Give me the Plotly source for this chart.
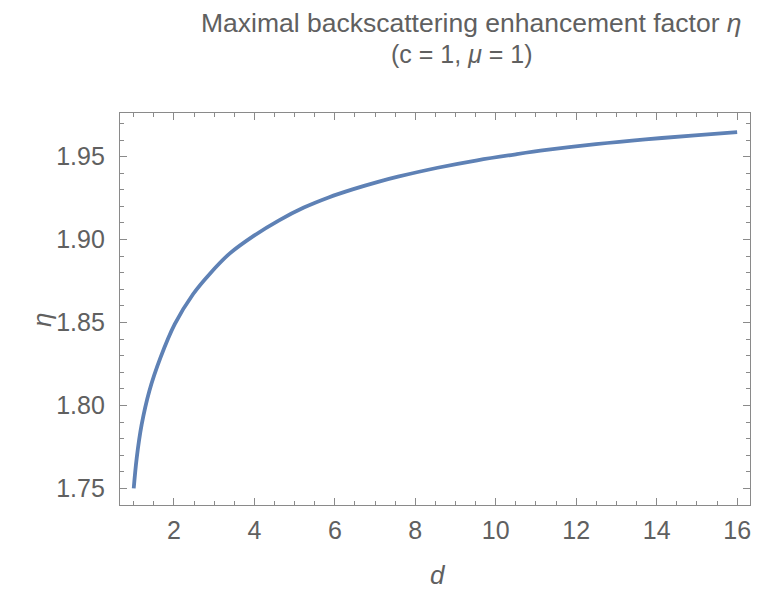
import plotly.graph_objects as go

# Values
d_values = [1.0, 1.074, 1.197, 1.387, 1.665, 2.02, 2.478, 2.889, 3.382, 4.0,
            4.613, 5.229, 5.845, 6.46, 7.076, 7.569, 8.554, 9.54, 10.525, 11.26, 12.49,
            13.72, 14.95, 16.0]
eta_values = [1.7500, 1.7682, 1.7884, 1.8086, 1.8288, 1.8490, 1.8672, 1.8793,
              1.8915, 1.9025, 1.9116, 1.9193, 1.9254, 1.9304, 1.9348, 1.9379, 1.9433,
              1.9478, 1.9515, 1.9540, 1.9575, 1.9604, 1.9628, 1.9648]
x_ticks = [2, 4, 6, 8, 10, 12, 14, 16]
y_ticks = [1.75, 1.80, 1.85, 1.90, 1.95]
y_tick_labels = ["1.75", "1.80", "1.85", "1.90", "1.95"]

FONT = "Liberation Sans, Arial, sans-serif"
GRAY = "#606060"
FRAME = "#8a8a8a"

fig = go.Figure()
fig.add_trace(go.Scatter(
    x=d_values, y=eta_values, mode="lines",
    line=dict(color="#5E81B5", width=3.8, shape="spline", smoothing=1.0),
    hoverinfo="skip", showlegend=False,
))

common = dict(
    showgrid=False, zeroline=False, showline=True, linecolor=FRAME, linewidth=1.3,
    mirror="allticks", ticks="inside", ticklen=7, tickwidth=1, tickcolor=FRAME,
    tickfont=dict(family=FONT, size=25, color=GRAY),
    ticklabeloverflow="allow",
)

fig.update_xaxes(
    range=[0.659, 16.32], tickvals=x_ticks,
    minor=dict(ticks="inside", dtick=0.5, tick0=0, ticklen=4, tickcolor=FRAME, tickwidth=1),
    ticklabelstandoff=3,
    **common,
)
fig.update_yaxes(
    range=[1.740, 1.9763], tickvals=y_ticks, ticktext=y_tick_labels,
    minor=dict(ticks="inside", dtick=0.01, tick0=1.7, ticklen=4, tickcolor=FRAME, tickwidth=1),
    ticklabelstandoff=9,
    **common,
)

fig.update_layout(
    width=744, height=584,
    margin=dict(l=112, r=2, t=105, b=87),
    plot_bgcolor="white", paper_bgcolor="white",
    annotations=[
        dict(text="Maximal backscattering enhancement factor <i>η</i>",
             xref="paper", yref="paper", x=0.5585, y=1.229, xanchor="center", yanchor="middle",
             showarrow=False, font=dict(family=FONT, size=26.5, color=GRAY)),
        dict(text="(c = 1, <i>μ</i> = 1)",
             xref="paper", yref="paper", x=0.5425, y=1.150, xanchor="center", yanchor="middle",
             showarrow=False, font=dict(family=FONT, size=25, color=GRAY)),
        dict(text="<i>η</i>", textangle=-90,
             xref="paper", yref="paper", x=-0.1238, y=0.472, xanchor="center", yanchor="middle",
             showarrow=False, font=dict(family=FONT, size=26, color=GRAY)),
        dict(text="<i>d</i>",
             xref="paper", yref="paper", x=0.5048, y=-0.2215, xanchor="center", yanchor="bottom",
             showarrow=False, font=dict(family=FONT, size=26, color=GRAY)),
    ],
)

fig.write_html("out.html")
